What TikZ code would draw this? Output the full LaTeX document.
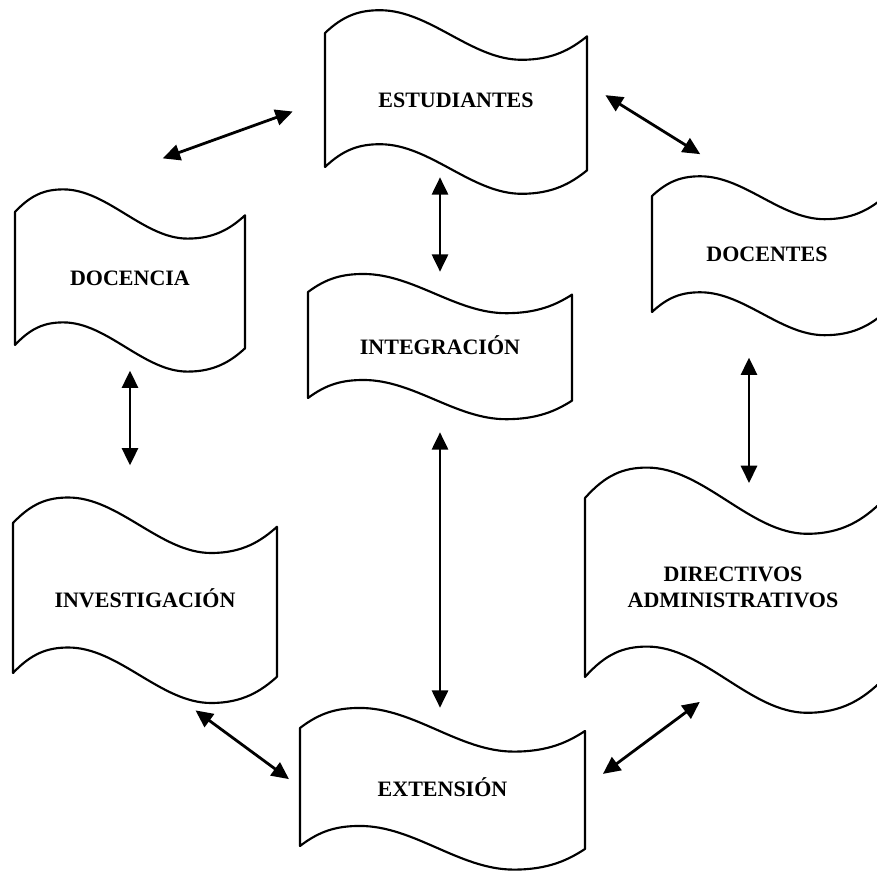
\documentclass[tikz,border=0pt]{standalone}
\usepackage{fontspec}
\setmainfont{Liberation Serif}
\usepackage{tikz}
\usetikzlibrary{arrows.meta}

\tikzset{
  borde/.style={line width=1.6pt, line join=round},
  etiqueta/.style={inner sep=0pt, align=center, font=\bfseries\fontsize{16.5}{19.5}\selectfont},
  flecha/.style={{Triangle[length=13pt,width=12pt]}-{Triangle[length=13pt,width=12pt]}, line width=2.1pt}
}

% #1 name, #2 left, #3 top, #4 width, #5 height, #6 text
\newcommand{\bandera}[6]{%
  \draw[borde] (#2,#3)
    .. controls ({#2+0.07*#4},{#3-0.13*#5}) and ({#2+0.13*#4},{#3-0.17*#5}) .. ({#2+0.21*#4},{#3-0.17*#5})
    .. controls ({#2+0.40*#4},{#3-0.17*#5}) and ({#2+0.56*#4},{#3+0.20*#5}) .. ({#2+0.75*#4},{#3+0.20*#5})
    .. controls ({#2+0.87*#4},{#3+0.20*#5}) and ({#2+0.94*#4},{#3+0.12*#5}) .. ({#2+#4},{#3+0.025*#5})
    -- ({#2+#4},{#3+1.025*#5})
    .. controls ({#2+0.94*#4},{#3+1.12*#5}) and ({#2+0.87*#4},{#3+1.20*#5}) .. ({#2+0.75*#4},{#3+1.20*#5})
    .. controls ({#2+0.56*#4},{#3+1.20*#5}) and ({#2+0.40*#4},{#3+0.83*#5}) .. ({#2+0.21*#4},{#3+0.83*#5})
    .. controls ({#2+0.13*#4},{#3+0.83*#5}) and ({#2+0.07*#4},{#3+0.87*#5}) .. (#2,{#3+#5})
    -- cycle;
  \node[etiqueta, minimum width={#4*0.75pt}, minimum height={#5*0.75pt}] (#1) at ({#2+#4/2},{#3+#5/2}) {#6};
}

\begin{document}
\begin{tikzpicture}[x=0.75pt,y=0.75pt,yscale=-1,xscale=1]
\useasboundingbox (0,0) rectangle (877,870);
\clip (0,0) rectangle (877,870);

% Banderas
\bandera{est}{325}{33}{262}{134}{ESTUDIANTES}
\bandera{doc}{15}{212}{230}{133}{DOCENCIA}
\bandera{docentes}{652}{196}{230}{116}{DOCENTES}
\bandera{int}{308}{292}{264}{106}{INTEGRACIÓN}
\bandera{inv}{13}{523}{264}{150}{INVESTIGACIÓN}
\bandera{dir}{585}{498}{296}{179}{DIRECTIVOS\\ADMINISTRATIVOS}
\bandera{ext}{300}{728}{285}{118}{EXTENSIÓN}

% Flechas
\draw[flecha, shorten <=25.5pt, shorten >=118pt] (est.west) -- (doc.north west);
\draw[flecha, shorten <=16pt, shorten >=59pt] (est.7) -- (docentes.north);
\draw[flecha, shorten <=7.5pt, shorten >=15pt] (int.north |- est.south) -- (int.north);
\draw[flecha, shorten <=19pt, shorten >=43pt] (doc.south) -- (doc.south |- inv.north);
\draw[flecha, shorten <=25.5pt, shorten >=15pt] (int.south) -- (int.south |- ext.north);
\draw[flecha, shorten <=34pt, shorten >=11pt] ([xshift=-13.5pt]docentes.south) -- ([xshift=-13.5pt]docentes.south |- dir.north);
\draw[flecha, shorten <=47pt, shorten >=10pt] (inv.south) -- (ext.west);
\draw[flecha, shorten <=16.5pt, shorten >=31pt] (ext.east) -- (dir.south);
\end{tikzpicture}
\end{document}
